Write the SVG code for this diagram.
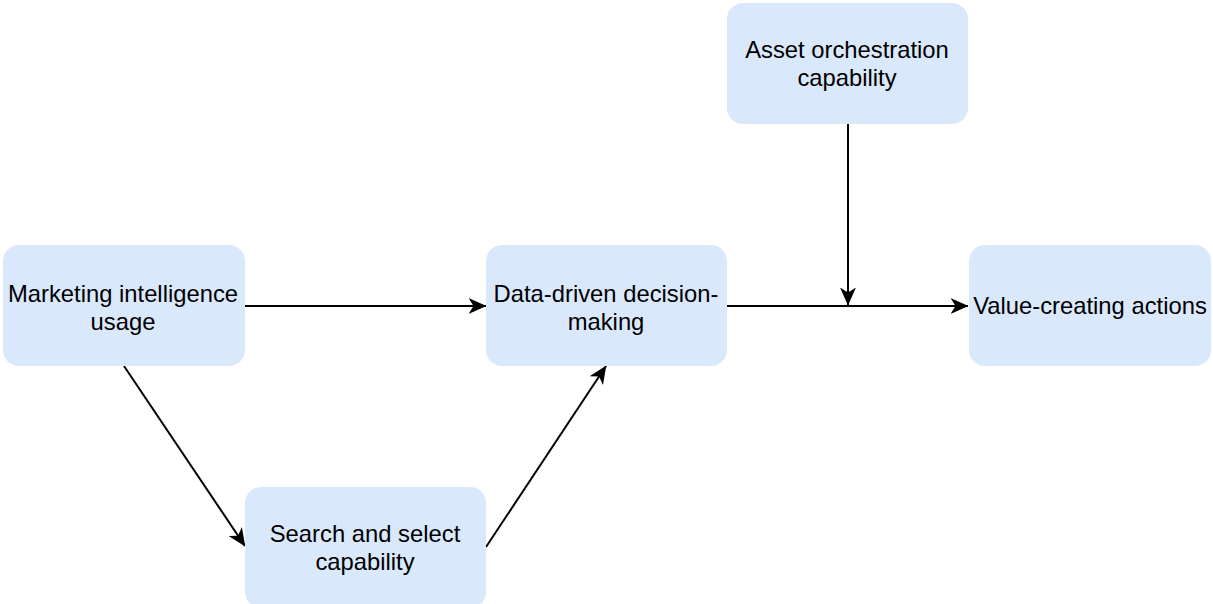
<svg xmlns="http://www.w3.org/2000/svg" width="1213" height="604" viewBox="0 0 1213 604">
<style>
.box{fill:#dae8fc;stroke:none}
.lbl{font-family:"Liberation Sans",Arial,Helvetica,sans-serif;font-size:23.8px;fill:#000;text-anchor:middle}
.edge{fill:none;stroke:#000;stroke-width:2}
</style>
<defs>
<marker id="arr" viewBox="0 0 18 16" markerWidth="18" markerHeight="16" refX="17.5" refY="8" orient="auto" markerUnits="userSpaceOnUse">
<path d="M0,0 L18,8 L0,16 L5,8 Z" fill="#000"/>
</marker>
</defs>
<rect width="1213" height="604" fill="#fff"/>
<g id="connectors">
<path class="edge" d="M245,306 L486,306" marker-end="url(#arr)"/>
<path class="edge" d="M727,306 L968,306" marker-end="url(#arr)"/>
<path class="edge" d="M848,124 L848,305" marker-end="url(#arr)"/>
<path class="edge" d="M124,366 L245,546" marker-end="url(#arr)"/>
<path class="edge" d="M486,547 L606,366" marker-end="url(#arr)"/>
</g>
<g id="marketing">
<rect class="box" x="3" y="245" width="242" height="121" rx="16"/>
<text class="lbl" x="123" y="302">Marketing intelligence</text>
<text class="lbl" x="123" y="330">usage</text>
</g>
<g id="asset">
<rect class="box" x="727" y="3" width="241" height="121" rx="16"/>
<text class="lbl" x="847" y="58">Asset orchestration</text>
<text class="lbl" x="847" y="86">capability</text>
</g>
<g id="datadriven">
<rect class="box" x="486" y="245" width="241" height="121" rx="16"/>
<text class="lbl" x="606" y="302">Data-driven decision-</text>
<text class="lbl" x="606" y="330">making</text>
</g>
<g id="value">
<rect class="box" x="969" y="245" width="242" height="121" rx="16"/>
<text class="lbl" x="1090" y="314">Value-creating actions</text>
</g>
<g id="search">
<rect class="box" x="245" y="487" width="241" height="121" rx="16"/>
<text class="lbl" x="365" y="542">Search and select</text>
<text class="lbl" x="365" y="570">capability</text>
</g>
</svg>
